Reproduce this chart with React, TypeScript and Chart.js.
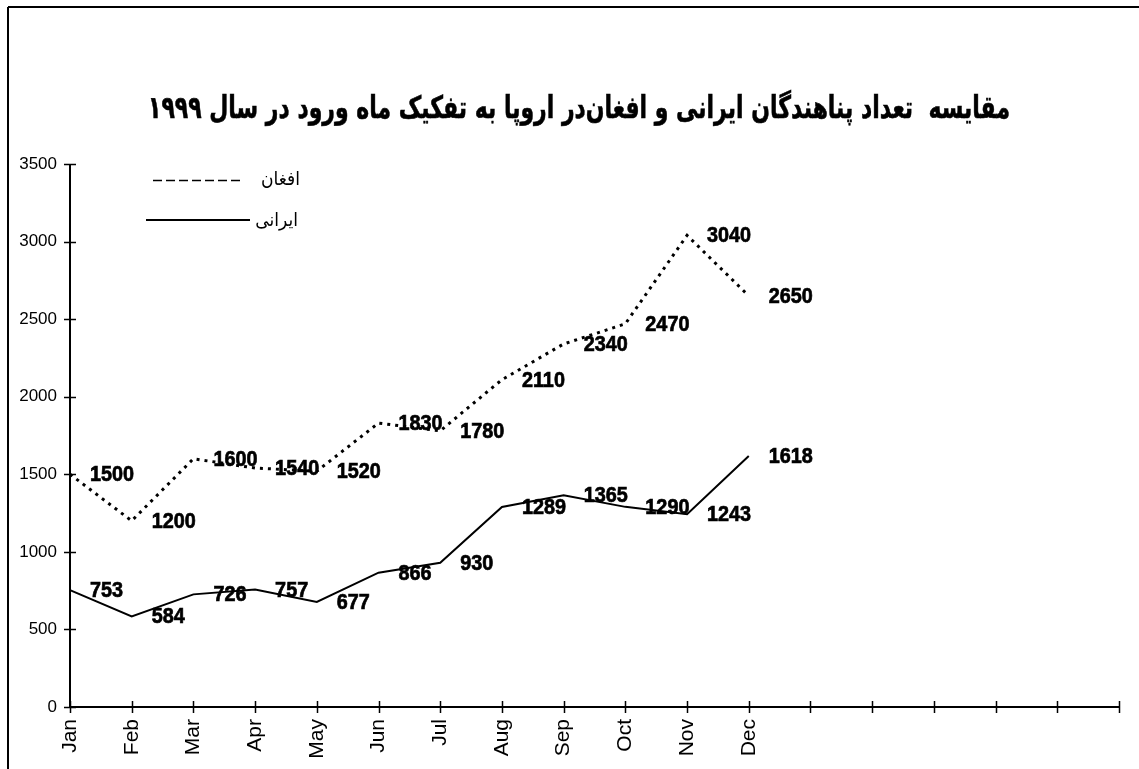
import React, { useEffect, useRef } from 'react';
import { Chart, registerables } from 'chart.js';

Chart.register(...registerables);

const months = ['Jan', 'Feb', 'Mar', 'Apr', 'May', 'Jun', 'Jul', 'Aug', 'Sep', 'Oct', 'Nov', 'Dec'];
const emptySlots = ['', '', '', '', '', ''];
const afghanValues = [1500, 1200, 1600, 1540, 1520, 1830, 1780, 2110, 2340, 2470, 3040, 2650];
const iranianValues = [753, 584, 726, 757, 677, 866, 930, 1289, 1365, 1290, 1243, 1618];
const yMin = 0;
const yMax = 3500;
const yStep = 500;

const titleText = 'مقایسه  تعداد پناهندگان ایرانی و افغان‌در اروپا به تفکیک ماه ورود در سال ۱۹۹۹';
const afghanName = 'افغان';
const iranianName = 'ایرانی';

const W = 1139;
const H = 769;

const decorPlugin = {
  id: 'decor',
  afterDraw(chart: any) {
    const ctx = chart.ctx as CanvasRenderingContext2D;
    const xs = chart.scales.x;
    const ys = chart.scales.y;
    const area = chart.chartArea;

    ctx.save();
    ctx.strokeStyle = '#000';
    ctx.lineWidth = 2;
    ctx.beginPath();
    ctx.moveTo(8, 7);
    ctx.lineTo(W, 7);
    ctx.moveTo(8, 7);
    ctx.lineTo(8, H);
    ctx.stroke();

    // axes
    ctx.lineWidth = 2;
    ctx.beginPath();
    ctx.moveTo(area.left, ys.getPixelForValue(yMax));
    ctx.lineTo(area.left, ys.getPixelForValue(yMin) + 1);
    ctx.moveTo(area.left - 1, ys.getPixelForValue(yMin));
    ctx.lineTo(area.right, ys.getPixelForValue(yMin));
    ctx.stroke();

    // crossing tick marks
    ctx.lineWidth = 1.5;
    ctx.beginPath();
    ys.ticks.forEach((_t: any, i: number) => {
      const py = Math.round(ys.getPixelForTick(i)) + 0.5;
      ctx.moveTo(area.left - 6, py);
      ctx.lineTo(area.left + 6, py);
    });
    xs.ticks.forEach((_t: any, i: number) => {
      const px = Math.round(xs.getPixelForTick(i)) + 0.5;
      const by = ys.getPixelForValue(yMin);
      ctx.moveTo(px, by - 6);
      ctx.lineTo(px, by + 6);
    });
    ctx.stroke();

    // title
    ctx.fillStyle = '#000';
    ctx.direction = 'rtl';
    ctx.textAlign = 'center';
    ctx.textBaseline = 'middle';
    ctx.font = 'bold 31px "DejaVu Sans"';
    const tw = ctx.measureText(titleText).width;
    const sx = 862 / tw;
    ctx.save();
    ctx.translate(579, 110);
    ctx.scale(sx, 1.0);
    ctx.lineWidth = 0.6;
    ctx.fillText(titleText, 0, 0);
    ctx.strokeText(titleText, 0, 0);
    ctx.restore();

    // legend
    ctx.font = '19px "DejaVu Sans"';
    ctx.textAlign = 'right';
    ctx.direction = 'rtl';
    ctx.save();
    ctx.translate(300, 180);
    ctx.scale(0.9, 1);
    ctx.fillText(afghanName, 0, 0);
    ctx.restore();
    ctx.save();
    ctx.translate(298, 221);
    ctx.scale(0.9, 1);
    ctx.fillText(iranianName, 0, 0);
    ctx.restore();
    ctx.direction = 'ltr';
    ctx.lineWidth = 1.5;
    ctx.setLineDash([9, 4]);
    ctx.beginPath();
    ctx.moveTo(153, 180.5);
    ctx.lineTo(240, 180.5);
    ctx.stroke();
    ctx.setLineDash([]);
    ctx.lineWidth = 2;
    ctx.beginPath();
    ctx.moveTo(146, 220);
    ctx.lineTo(250, 220);
    ctx.stroke();

    // data labels
    ctx.textAlign = 'left';
    ctx.textBaseline = 'middle';
    ctx.font = 'bold 22px "Liberation Sans"';
    ctx.lineWidth = 0.7;
    chart.data.datasets.forEach((ds: any, di: number) => {
      const meta = chart.getDatasetMeta(di);
      meta.data.forEach((pt: any, i: number) => {
        const v = String(ds.data[i]);
        ctx.save();
        ctx.translate(pt.x + 20, pt.y + 1);
        ctx.scale(0.9, 1);
        ctx.fillText(v, 0, 0);
        ctx.strokeText(v, 0, 0);
        ctx.restore();
      });
    });
    ctx.restore();
  },
};

export default function App() {
  const ref = useRef<HTMLCanvasElement | null>(null);
  useEffect(() => {
    if (!ref.current) return;
    const chart = new Chart(ref.current, {
      type: 'line',
      data: {
        labels: [...months, ...emptySlots],
        datasets: [
          {
            label: afghanName,
            data: afghanValues,
            borderColor: '#000',
            borderWidth: 3,
            borderDash: [3, 5],
            pointRadius: 0,
            fill: false,
            tension: 0,
          },
          {
            label: iranianName,
            data: iranianValues,
            borderColor: '#000',
            borderWidth: 2,
            pointRadius: 0,
            fill: false,
            tension: 0,
          },
        ],
      },
      options: {
        responsive: false,
        animation: false,
        devicePixelRatio: 1,
        layout: { padding: { left: 0, top: 164, right: 20, bottom: 0 } },
        plugins: {
          legend: { display: false },
          title: { display: false },
          tooltip: { enabled: false },
        },
        scales: {
          x: {
            type: 'category',
            offset: false,
            grid: { display: false, drawTicks: false },
            border: { display: false },
            ticks: {
              autoSkip: false,
              minRotation: 90,
              maxRotation: 90,
              padding: 12,
              color: '#000',
              font: { family: '"Liberation Sans", Arial', size: 21 },
            },
            afterFit: (s: any) => {
              s.height = 62;
              s.paddingLeft = 0;
              s.paddingRight = 0;
            },
          },
          y: {
            min: yMin,
            max: yMax,
            grid: { display: false, drawTicks: false },
            border: { display: false },
            ticks: {
              stepSize: yStep,
              padding: 13,
              color: '#000',
              font: { family: '"Liberation Sans", Arial', size: 17 },
              callback: (v: any) => String(v),
            },
            afterFit: (s: any) => {
              s.width = 70;
              s.paddingTop = 0;
              s.paddingBottom = 0;
            },
          },
        },
      },
      plugins: [decorPlugin],
    });
    return () => chart.destroy();
  }, []);
  return (
    <div style={{ position: 'absolute', left: 0, top: 0, width: W, height: H, background: '#fff' }}>
      <canvas ref={ref} width={W} height={H} style={{ display: 'block', width: W, height: H }} />
    </div>
  );
}
